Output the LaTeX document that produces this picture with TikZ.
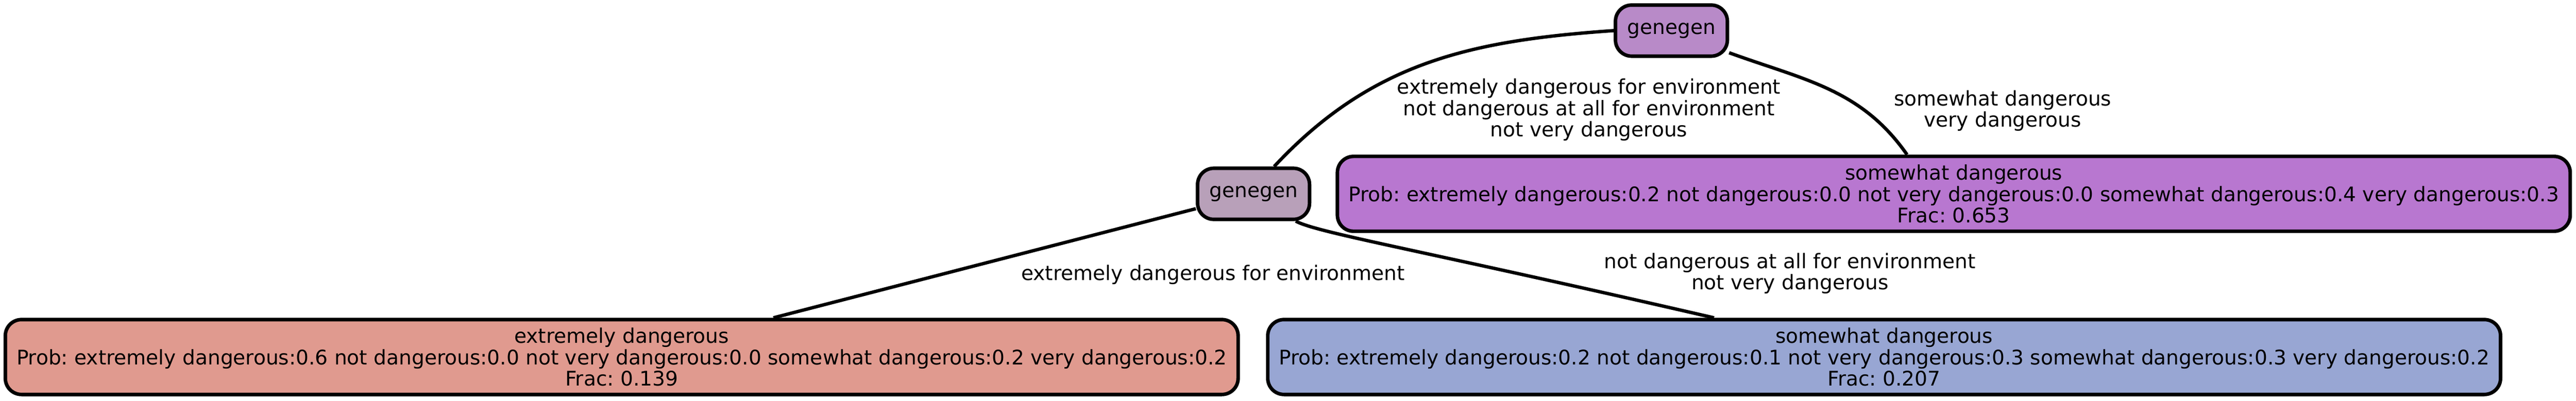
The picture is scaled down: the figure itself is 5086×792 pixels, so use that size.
\documentclass[tikz,border=0pt]{standalone}
\usepackage{fontspec}
\setmainfont{DejaVu Sans}
\frenchspacing
\definecolor{cred}{RGB}{224,154,143}
\definecolor{cpurple}{RGB}{184,119,208}
\definecolor{ctop}{RGB}{184,138,200}
\definecolor{cmid}{RGB}{184,160,185}
\definecolor{cblue}{RGB}{152,166,211}
\begin{document}
\begin{tikzpicture}[x=0.25pt,y=0.25pt,
  box/.style={draw=black, line width=1.75pt, rounded corners=8pt, inner sep=0pt, align=center, font=\fontsize{9.95}{10.5}\selectfont\frenchspacing},
  innernode/.style={box, minimum width=55.25pt, minimum height=25.25pt},
  leafnode/.style={box, minimum width=608.5pt, minimum height=37pt},
  lbl/.style={inner sep=0pt, align=center, font=\fontsize{9.95}{10.5}\selectfont\frenchspacing},
  edgeline/.style={line width=1.65pt}]
\useasboundingbox (0,0) rectangle (5086,792);
\node[innernode, fill=cmid] (g1) at (2475,409) {genegen};
\node[innernode, fill=ctop] (g2) at (3300,731.5) {genegen};
\node[leafnode, fill=cred] (red) at (1227.5,86.5) {extremely dangerous\\Prob: extremely dangerous:0.6 not dangerous:0.0 not very dangerous:0.0 somewhat dangerous:0.2 very dangerous:0.2\\Frac: 0.139};
\node[leafnode, fill=cpurple] (purple) at (3857.5,409) {somewhat dangerous\\Prob: extremely dangerous:0.2 not dangerous:0.0 not very dangerous:0.0 somewhat dangerous:0.4 very dangerous:0.3\\Frac: 0.653};
\node[leafnode, fill=cblue] (blue) at (3720,86.5) {somewhat dangerous\\Prob: extremely dangerous:0.2 not dangerous:0.1 not very dangerous:0.3 somewhat dangerous:0.3 very dangerous:0.2\\Frac: 0.207};
\draw[edgeline] (g1) -- (red);
\draw[edgeline] (g1.53) to[out=47, in=184] (g2.west);
\draw[edgeline] (g2.-21) to[out=-20, in=125] (purple.140);
\draw[edgeline] (g1.-33) .. controls +(-28:50) and +(167:600) .. (blue.167);
\node[lbl] (l1) at (2395,249) {extremely dangerous for environment};
\node[lbl] (l2) at (3137,575) {extremely dangerous for environment\\not dangerous at all for environment\\not very dangerous};
\node[lbl] (l3) at (3954,573) {somewhat dangerous\\very dangerous};
\node[lbl] (l4) at (3534,252) {not dangerous at all for environment\\not very dangerous};
\end{tikzpicture}
\end{document}
